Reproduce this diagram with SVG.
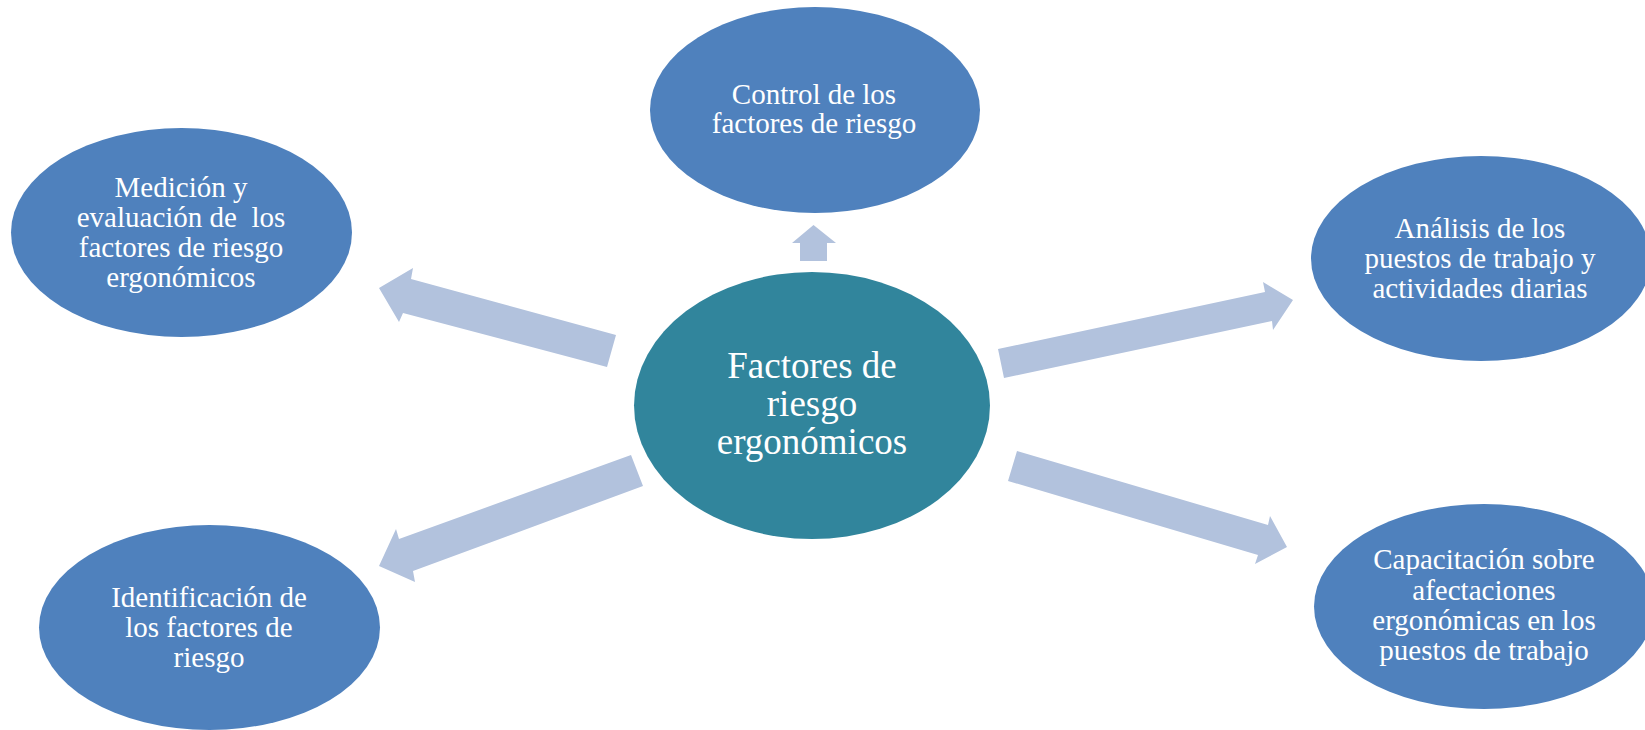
<svg xmlns="http://www.w3.org/2000/svg" width="1645" height="730" viewBox="0 0 1645 730">
<style>
.sat{fill:#4F81BD}
.hub{fill:#31859C}
.arr{fill:#B2C2DD}
text{font-family:"Liberation Serif","Times New Roman",serif;fill:#FFFFFF;text-anchor:middle}
.t{font-size:29px}
.h{font-size:37px}
</style>
<rect width="1645" height="730" fill="#FFFFFF"/>
<g id="connectors">
<polygon class="arr" points="616,335 411,279 413,268 379,288 399,322 403,313 607,367"/>
<polygon class="arr" points="631,455 399,539 396,529 379,566 415,582 413,571 643,486"/>
<polygon class="arr" points="800,261 800,243 792,243 813.5,225 836,243 827,243 827,261"/>
<polygon class="arr" points="998,349 1265,292 1263,282 1293,300 1273,330 1272,321 1004,378"/>
<polygon class="arr" points="1017,451 1268,525 1270,516 1287,547 1255,564 1258,555 1008,481"/>
</g>
<g id="hub">
<ellipse class="hub" cx="812" cy="405.5" rx="178" ry="133.5"/>
<text class="h" x="812" y="378">Factores de</text>
<text class="h" x="812" y="416">riesgo</text>
<text class="h" x="812" y="454">ergonómicos</text>
</g>
<g id="control">
<ellipse class="sat" cx="815" cy="110" rx="165" ry="103"/>
<text class="t" x="814" y="104">Control de los</text>
<text class="t" x="814" y="133">factores de riesgo</text>
</g>
<g id="medicion">
<ellipse class="sat" cx="181.5" cy="232.5" rx="170.5" ry="104.5"/>
<text class="t" x="181" y="197">Medición y</text>
<text class="t" x="181" y="227" xml:space="preserve">evaluación de  los</text>
<text class="t" x="181" y="257">factores de riesgo</text>
<text class="t" x="181" y="287">ergonómicos</text>
</g>
<g id="analisis">
<ellipse class="sat" cx="1481" cy="258.5" rx="170" ry="102.5"/>
<text class="t" x="1480" y="238">Análisis de los</text>
<text class="t" x="1480" y="268">puestos de trabajo y</text>
<text class="t" x="1480" y="298">actividades diarias</text>
</g>
<g id="capacitacion">
<ellipse class="sat" cx="1484" cy="606.5" rx="170" ry="102.5"/>
<text class="t" x="1484" y="569">Capacitación sobre</text>
<text class="t" x="1484" y="600">afectaciones</text>
<text class="t" x="1484" y="630">ergonómicas en los</text>
<text class="t" x="1484" y="660">puestos de trabajo</text>
</g>
<g id="identificacion">
<ellipse class="sat" cx="209.5" cy="627.5" rx="170.5" ry="102.5"/>
<text class="t" x="209" y="607">Identificación de</text>
<text class="t" x="209" y="637">los factores de</text>
<text class="t" x="209" y="667">riesgo</text>
</g>
</svg>
